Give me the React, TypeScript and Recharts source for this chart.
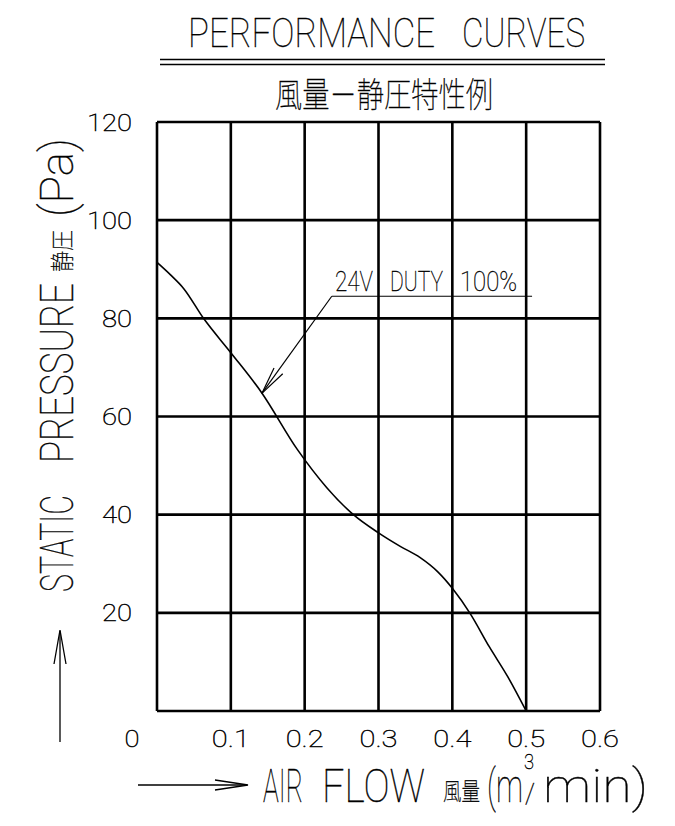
import React from "react";
import { LineChart, Line, XAxis, YAxis, CartesianGrid, ReferenceLine } from "recharts";

// air flow (m3/min) and static pressure (Pa)
const FLOW = [0, 0.018, 0.036, 0.063, 0.1, 0.142, 0.19, 0.23, 0.266, 0.3, 0.33, 0.356, 0.38, 0.4, 0.424, 0.45, 0.475, 0.5];
const PRESSURE = [91.4, 88.9, 86.1, 80, 73, 64.8, 53.3, 45.5, 40, 36.3, 33.5, 31.3, 28.4, 25, 19.9, 13.1, 7, 0];

const X_TICKS = [0, 0.1, 0.2, 0.3, 0.4, 0.5, 0.6];
const Y_TICKS = [0, 20, 40, 60, 80, 100, 120];

// leader for the "24V DUTY 100%" note (data coords)
const LEADER_Y = 84.5;
const LEADER_START = 0.2367;
const LEADER_END = 0.508;
const ARROW_TIP = { x: 0.142, y: 64.7 };
const ARROW_BARBS = [{ x: 0.1585, y: 69.9 }, { x: 0.1703, y: 68.7 }];

const FONT = "Roboto, 'Liberation Sans', 'DejaVu Sans', sans-serif";
const CJK = "'Noto Sans CJK JP', 'Noto Sans CJK SC', sans-serif";
const W = 100;
const INK = { fill: "#000", stroke: "#000", strokeWidth: 0.35 };

const data = FLOW.map((f, i) => ({ flow: f, pressure: PRESSURE[i] }));

const tickWidth = (s: string) => s.replace(".", "").length * 15 + (s.includes(".") ? 8 : 0);

const XTick = (props: any) => {
  const { x, payload } = props;
  const v = payload.value as number;
  const label = v === 0 ? "0" : v.toFixed(1);
  const cx = v === 0 ? x - 25 : x;
  return (
    <text x={cx} y={747} textAnchor="middle" fontFamily={FONT} fontWeight={W} fontSize={24} {...INK}
      strokeWidth={0.45} textLength={tickWidth(label)} lengthAdjust="spacingAndGlyphs">
      {label}
    </text>
  );
};

const YTick = (props: any) => {
  const { y, payload } = props;
  const v = payload.value as number;
  if (v === 0) return <g />;
  const label = String(v);
  return (
    <text x={132} y={y + 8.5} textAnchor="end" fontFamily={FONT} fontWeight={W} fontSize={24} {...INK}
      strokeWidth={0.45} textLength={tickWidth(label)} lengthAdjust="spacingAndGlyphs">
      {label}
    </text>
  );
};

// a word squeezed to a measured width
const Word = ({ x, y, size, len, children, family = FONT }: any) => (
  <text x={x} y={y} fontFamily={family} fontWeight={W} fontSize={size} {...INK}
    textLength={len} lengthAdjust="spacingAndGlyphs">
    {children}
  </text>
);

export default function App() {
  return (
    <div style={{ position: "absolute", left: 0, top: 0, width: 675, height: 826, background: "#fff" }}>
      <LineChart width={675} height={826} data={data} margin={{ top: 122, right: 75, bottom: 65, left: 0 }}>
        <CartesianGrid stroke="#000" strokeWidth={2.6} strokeOpacity={1} horizontalValues={Y_TICKS} verticalValues={X_TICKS} />
        <XAxis dataKey="flow" type="number" domain={[0, 0.6]} ticks={X_TICKS} height={50}
          axisLine={false} tickLine={false} tick={<XTick />} interval={0} />
        <YAxis type="number" domain={[0, 120]} ticks={Y_TICKS} width={157}
          axisLine={false} tickLine={false} tick={<YTick />} interval={0} />
        <ReferenceLine segment={[{ x: LEADER_START, y: LEADER_Y }, { x: LEADER_END, y: LEADER_Y }]} stroke="#000" strokeWidth={1.2} />
        <ReferenceLine segment={[{ x: LEADER_START, y: LEADER_Y }, ARROW_TIP]} stroke="#000" strokeWidth={1.2} />
        {ARROW_BARBS.map((b, i) => (
          <ReferenceLine key={i} segment={[b, ARROW_TIP]} stroke="#000" strokeWidth={1.2} />
        ))}
        <Line type="monotone" dataKey="pressure" stroke="#000" strokeWidth={1.6} dot={false} isAnimationActive={false} />
      </LineChart>

      <svg width={675} height={826} style={{ position: "absolute", left: 0, top: 0, pointerEvents: "none" }}>
        {/* title block */}
        <Word x={188} y={47} size={41} len={247}>PERFORMANCE</Word>
        <Word x={462} y={47} size={41} len={123}>CURVES</Word>
        <line x1={160} x2={605} y1={59.5} y2={59.5} stroke="#000" strokeWidth={1.5} />
        <line x1={160} x2={605} y1={64.5} y2={64.5} stroke="#000" strokeWidth={1.5} />
        <Word x={275} y={107} size={34} len={218} family={CJK}>風量－静圧特性例</Word>

        {/* note */}
        <Word x={335} y={291} size={28} len={38}>24V</Word>
        <Word x={390} y={291} size={28} len={53}>DUTY</Word>
        <Word x={460} y={291} size={28} len={57}>100%</Word>

        {/* y axis title */}
        <g transform="rotate(-90)">
          <Word x={-592} y={73} size={46} len={97}>STATIC</Word>
          <Word x={-463} y={73} size={46} len={180}>PRESSURE</Word>
          <Word x={-272} y={71} size={24} len={42} family={CJK}>静圧</Word>
          <Word x={-217} y={73} size={46} len={79}>(Pa)</Word>
        </g>
        <line x1={60} x2={60} y1={742} y2={631} stroke="#000" strokeWidth={1.3} />
        <polyline points="54,664 60,630 66,664" fill="none" stroke="#000" strokeWidth={1.3} />

        {/* x axis title */}
        <line x1={138} x2={247} y1={785} y2={785} stroke="#000" strokeWidth={1.3} />
        <polyline points="215,780 248,785 215,790" fill="none" stroke="#000" strokeWidth={1.3} />
        <Word x={263} y={802} size={47} len={40}>AIR</Word>
        <Word x={322} y={802} size={47} len={103}>FLOW</Word>
        <Word x={443} y={800} size={24} len={37} family={CJK}>風量</Word>
        <Word x={487} y={802} size={47} len={36}>(m</Word>
        <Word x={524} y={769} size={20} len={10}>3</Word>
        <Word x={525} y={803} size={28} len={10}>/</Word>
        <Word x={543} y={802} size={47} len={105}>min)</Word>
      </svg>
    </div>
  );
}
